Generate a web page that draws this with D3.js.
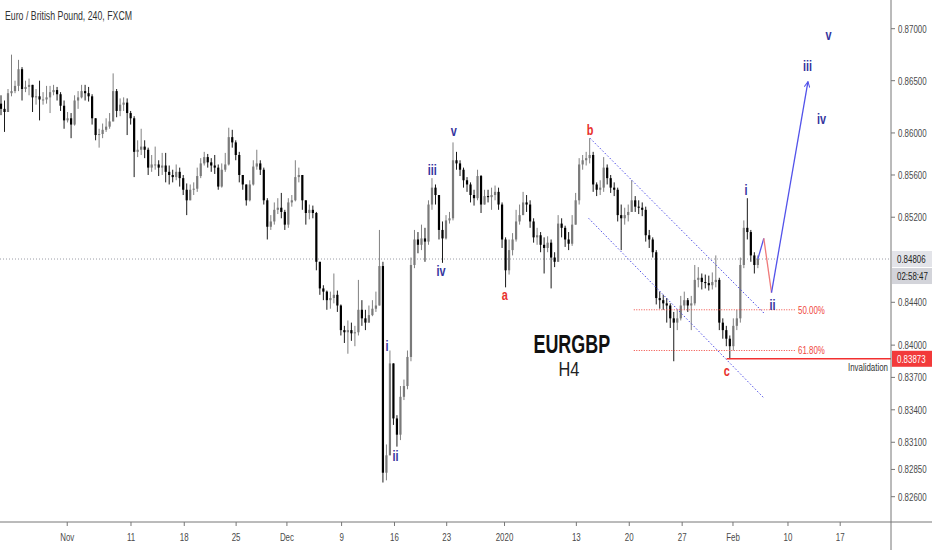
<!DOCTYPE html>
<html>
<head>
<meta charset="utf-8">
<script src="https://cdn.jsdelivr.net/npm/d3@7"></script>
<style>
  body { margin: 0; background: #fff; }
  svg { display: block; font-family: "Liberation Sans", Arial, sans-serif; }
</style>
</head>
<body>
<div id="chart"></div>
<script>
const width = 932;
const height = 550;
const plotRight = 891;
const axisY = 522;

// EUR/GBP 240 candles, open = previous close
const firstOpen = 0.8628;
const closes = [
  0.8623, 0.8620, 0.8638, 0.8640, 0.8645, 0.8661, 0.8642, 0.8644, 0.8646, 0.8634,
  0.8635, 0.8632, 0.8632, 0.8634, 0.8639, 0.8641, 0.8637, 0.8626, 0.8612, 0.8614,
  0.8608, 0.8631, 0.8634, 0.8640, 0.8638, 0.8635, 0.8614, 0.8598, 0.8599, 0.8603,
  0.8606, 0.8611, 0.8640, 0.8621, 0.8627, 0.8629, 0.8619, 0.8614, 0.8582, 0.8584,
  0.8587, 0.8584, 0.8567, 0.8570, 0.8570, 0.8567, 0.8569, 0.8563, 0.8560, 0.8558,
  0.8563, 0.8557, 0.8546, 0.8536, 0.8546, 0.8547, 0.8559, 0.8571, 0.8577, 0.8572,
  0.8569, 0.8567, 0.8549, 0.8565, 0.8570, 0.8596, 0.8591, 0.8579, 0.8560, 0.8551,
  0.8536, 0.8551, 0.8568, 0.8571, 0.8565, 0.8536, 0.8511, 0.8516, 0.8527, 0.8529,
  0.8525, 0.8513, 0.8534, 0.8536, 0.8558, 0.8560, 0.8536, 0.8524, 0.8527, 0.8524,
  0.8478, 0.8453, 0.8450, 0.8442, 0.8444, 0.8447, 0.8437, 0.8414, 0.8412, 0.8414,
  0.8411, 0.8412, 0.8433, 0.8425, 0.8421, 0.8428, 0.8434, 0.8437, 0.8474, 0.8282,
  0.8298, 0.8383, 0.8332, 0.8317, 0.8352, 0.8362, 0.8389, 0.8475, 0.8499, 0.8494,
  0.8500, 0.8497, 0.8532, 0.8548, 0.8541, 0.8508, 0.8500, 0.8517, 0.8519, 0.8574,
  0.8571, 0.8565, 0.8555, 0.8551, 0.8541, 0.8538, 0.8559, 0.8532, 0.8540, 0.8539,
  0.8541, 0.8544, 0.8532, 0.8499, 0.8470, 0.8489, 0.8499, 0.8516, 0.8522, 0.8534,
  0.8532, 0.8516, 0.8501, 0.8503, 0.8494, 0.8491, 0.8496, 0.8482, 0.8478, 0.8514,
  0.8510, 0.8499, 0.8495, 0.8513, 0.8536, 0.8570, 0.8574, 0.8576, 0.8579, 0.8551,
  0.8546, 0.8548, 0.8567, 0.8557, 0.8548, 0.8546, 0.8522, 0.8519, 0.8522, 0.8525,
  0.8536, 0.8530, 0.8529, 0.8527, 0.8503, 0.8499, 0.8487, 0.8444, 0.8442, 0.8439,
  0.8437, 0.8425, 0.8421, 0.8425, 0.8437, 0.8442, 0.8437, 0.8439, 0.8461, 0.8463,
  0.8459, 0.8458, 0.8456, 0.8459, 0.8461, 0.8421, 0.8414, 0.8406, 0.8399, 0.8418,
  0.8425, 0.8475, 0.8510, 0.8506, 0.8484, 0.8475, 0.84806
];
const highs = [
  0.8636, 0.8631, 0.8642, 0.8675, 0.8650, 0.8670, 0.8663, 0.8650, 0.8652, 0.8644,
  0.8642, 0.8650, 0.8639, 0.8645, 0.8645, 0.8646, 0.8644, 0.8639, 0.8631, 0.8620,
  0.8619, 0.8636, 0.8640, 0.8646, 0.8646, 0.8644, 0.8637, 0.8614, 0.8604, 0.8609,
  0.8614, 0.8619, 0.8657, 0.8642, 0.8633, 0.8634, 0.8633, 0.8621, 0.8616, 0.8593,
  0.8604, 0.8593, 0.8586, 0.8579, 0.8587, 0.8574, 0.8581, 0.8581, 0.8569, 0.8565,
  0.8570, 0.8567, 0.8560, 0.8552, 0.8551, 0.8553, 0.8567, 0.8576, 0.8582, 0.8580,
  0.8576, 0.8579, 0.8570, 0.8571, 0.8581, 0.8605, 0.8603, 0.8593, 0.8582, 0.8560,
  0.8551, 0.8555, 0.8574, 0.8584, 0.8574, 0.8567, 0.8538, 0.8522, 0.8534, 0.8538,
  0.8543, 0.8527, 0.8538, 0.8541, 0.8574, 0.8567, 0.8560, 0.8536, 0.8532, 0.8531,
  0.8525, 0.8478, 0.8456, 0.8451, 0.8450, 0.8467, 0.8451, 0.8438, 0.8418, 0.8423,
  0.8421, 0.8418, 0.8461, 0.8442, 0.8433, 0.8437, 0.8442, 0.8450, 0.8508, 0.8478,
  0.8308, 0.8395, 0.8380, 0.8335, 0.8362, 0.8368, 0.8395, 0.8482, 0.8508, 0.8506,
  0.8513, 0.8510, 0.8536, 0.8557, 0.8551, 0.8541, 0.8516, 0.8522, 0.8525, 0.8591,
  0.8582, 0.8574, 0.8567, 0.8558, 0.8553, 0.8546, 0.8565, 0.8560, 0.8546, 0.8546,
  0.8548, 0.8550, 0.8548, 0.8534, 0.8501, 0.8499, 0.8505, 0.8527, 0.8532, 0.8544,
  0.8541, 0.8536, 0.8519, 0.8510, 0.8506, 0.8501, 0.8502, 0.8499, 0.8487, 0.8522,
  0.8519, 0.8512, 0.8506, 0.8522, 0.8543, 0.8576, 0.8579, 0.8582, 0.8595, 0.8582,
  0.8553, 0.8555, 0.8577, 0.8570, 0.8560, 0.8553, 0.8548, 0.8532, 0.8529, 0.8532,
  0.8555, 0.8540, 0.8536, 0.8534, 0.8530, 0.8508, 0.8501, 0.8489, 0.8450, 0.8447,
  0.8444, 0.8439, 0.8431, 0.8433, 0.8446, 0.8450, 0.8444, 0.8446, 0.8475, 0.8473,
  0.8467, 0.8466, 0.8465, 0.8468, 0.8484, 0.8463, 0.8425, 0.8418, 0.8409, 0.8425,
  0.8433, 0.8482, 0.8517, 0.8538, 0.8508, 0.8487, 0.8484
];
const lows = [
  0.8617, 0.8601, 0.8620, 0.8635, 0.8638, 0.8640, 0.8631, 0.8639, 0.8636, 0.8620,
  0.8627, 0.8612, 0.8627, 0.8628, 0.8619, 0.8636, 0.8631, 0.8621, 0.8604, 0.8610,
  0.8595, 0.8607, 0.8623, 0.8633, 0.8631, 0.8630, 0.8608, 0.8593, 0.8586, 0.8595,
  0.8601, 0.8604, 0.8614, 0.8615, 0.8616, 0.8621, 0.8598, 0.8608, 0.8558, 0.8577,
  0.8579, 0.8576, 0.8560, 0.8563, 0.8565, 0.8559, 0.8560, 0.8553, 0.8551, 0.8553,
  0.8555, 0.8549, 0.8541, 0.8522, 0.8538, 0.8541, 0.8544, 0.8557, 0.8569, 0.8567,
  0.8563, 0.8561, 0.8546, 0.8548, 0.8563, 0.8569, 0.8586, 0.8574, 0.8553, 0.8546,
  0.8531, 0.8535, 0.8550, 0.8565, 0.8560, 0.8532, 0.8499, 0.8508, 0.8513, 0.8523,
  0.8519, 0.8508, 0.8510, 0.8530, 0.8535, 0.8553, 0.8527, 0.8513, 0.8518, 0.8519,
  0.8470, 0.8447, 0.8442, 0.8433, 0.8434, 0.8439, 0.8431, 0.8409, 0.8402, 0.8392,
  0.8404, 0.8399, 0.8409, 0.8418, 0.8414, 0.8421, 0.8427, 0.8431, 0.8437, 0.8273,
  0.8275, 0.8298, 0.8326, 0.8306, 0.8312, 0.8349, 0.8359, 0.8385, 0.8472, 0.8486,
  0.8489, 0.8478, 0.8494, 0.8527, 0.8532, 0.8499, 0.8477, 0.8499, 0.8514, 0.8517,
  0.8565, 0.8559, 0.8548, 0.8544, 0.8534, 0.8531, 0.8536, 0.8524, 0.8532, 0.8534,
  0.8527, 0.8536, 0.8527, 0.8491, 0.8454, 0.8466, 0.8484, 0.8497, 0.8513, 0.8522,
  0.8525, 0.8510, 0.8496, 0.8494, 0.8487, 0.8467, 0.8487, 0.8453, 0.8473, 0.8478,
  0.8501, 0.8492, 0.8489, 0.8493, 0.8513, 0.8532, 0.8565, 0.8569, 0.8571, 0.8544,
  0.8540, 0.8541, 0.8544, 0.8551, 0.8543, 0.8540, 0.8516, 0.8489, 0.8513, 0.8516,
  0.8527, 0.8525, 0.8523, 0.8521, 0.8497, 0.8491, 0.8482, 0.8438, 0.8434, 0.8433,
  0.8421, 0.8416, 0.8385, 0.8414, 0.8423, 0.8433, 0.8431, 0.8414, 0.8437, 0.8454,
  0.8452, 0.8453, 0.8451, 0.8452, 0.8454, 0.8414, 0.8406, 0.8399, 0.8387, 0.8395,
  0.8414, 0.8421, 0.8472, 0.8499, 0.8478, 0.8467, 0.8472
];

// time axis (bar positions of the labels)
const dateLabels = ["Nov", "11", "18", "25", "Dec", "9", "16", "23", "2020", "13", "20", "27", "Feb", "10", "17"];
const dateBars = [18.9, 37.1, 52.3, 67.1, 81.6, 97.2, 112.3, 127.2, 143.7, 164.2, 179.3, 194.4, 208.9, 224.6, 239.5];

// price axis
const priceTicks = [0.87, 0.865, 0.86, 0.856, 0.852, 0.844, 0.84, 0.837, 0.834, 0.831, 0.8285, 0.826];
const lastPrice = 0.84806;
const invalidation = 0.83873;
const countdown = "02:58:47";

// Elliott wave labels
const waveLabels = ["i", "ii", "iii", "iv", "v", "a", "b", "c", "i", "ii", "iii", "iv", "v"];
const waveBars = [110.2, 112.6, 123.1, 125.6, 129.2, 143.8, 168.1, 207.1, 212.6, 220.2, 230.2, 234.2, 236.2];
const wavePrices = [0.8399, 0.8297, 0.8565, 0.8469, 0.8602, 0.8447, 0.8603, 0.8376, 0.8546, 0.8437, 0.8664, 0.8613, 0.8694];
const waveRed = [false, false, false, false, false, true, true, true, false, false, false, false, false];

// projected path
const projBars = [216, 217.7, 219.9, 230.3];
const projPrices = [0.84806, 0.8500, 0.8449, 0.8649];
const projColors = ["#5252ea", "#f07a7a", "#5252ea"];

// falling channel
const channelBars = [[168.1, 217.7], [167.7, 217.7]];
const channelPrices = [[0.8595, 0.8430], [0.8519, 0.8351]];

// fibonacci levels
const fibLabels = ["50.00%", "61.80%"];
const fibPrices = [0.8433, 0.8395];
const fibBars = [180.6, 226.9];

const x = d3.scaleLinear().domain([0, 254]).range([1, plotRight]);
const y = d3.scaleLog().domain([0.826, 0.87]).range([496.7, 28.7]);

const svg = d3.select("#chart")
    .append("svg")
    .attr("width", width)
    .attr("height", height)
    .attr("viewBox", [0, 0, width, height]);

svg.append("rect").attr("width", width).attr("height", height).attr("fill", "#fff");

svg.append("clipPath").attr("id", "plot")
    .append("rect").attr("x", 0).attr("y", 0).attr("width", plotRight).attr("height", axisY);

const plot = svg.append("g").attr("clip-path", "url(#plot)");

// the chart image is horizontally narrow, so text is squeezed to match
function squeeze(sel, k) {
    sel.each(function() {
        const t = d3.select(this);
        const x0 = +t.attr("x") || 0;
        const y0 = +t.attr("y") || 0;
        t.attr("x", null).attr("y", null)
            .attr("transform", `translate(${x0},${y0}) scale(${k},1)`);
    });
}

// last price line
plot.append("line")
    .attr("x1", 0).attr("x2", plotRight)
    .attr("y1", y(lastPrice)).attr("y2", y(lastPrice))
    .attr("stroke", "#9a9ca6").attr("stroke-width", 1)
    .attr("stroke-dasharray", "1,2");

// candles
const candles = closes.map((c, i) => {
    const o = i ? closes[i - 1] : firstOpen;
    return { i, o, c, h: Math.max(highs[i], o, c), l: Math.min(lows[i], o, c) };
});

const candleG = plot.append("g");
candleG.selectAll("line")
    .data(candles)
    .join("line")
    .attr("x1", d => x(d.i)).attr("x2", d => x(d.i))
    .attr("y1", d => y(d.h)).attr("y2", d => y(d.l))
    .attr("stroke", d => d.c >= d.o ? "#808080" : "#1a1a1a")
    .attr("stroke-width", 1);

candleG.selectAll("rect")
    .data(candles)
    .join("rect")
    .attr("x", d => x(d.i) - 1.1)
    .attr("width", 2.2)
    .attr("y", d => y(Math.max(d.o, d.c)))
    .attr("height", d => Math.max(1, Math.abs(y(d.o) - y(d.c))))
    .attr("fill", d => d.c >= d.o ? "#7a7a7a" : "#000");

// channel
plot.append("g").selectAll("line")
    .data(channelBars.map((b, k) => ({ b, p: channelPrices[k] })))
    .join("line")
    .attr("x1", d => x(d.b[0])).attr("x2", d => x(d.b[1]))
    .attr("y1", d => y(d.p[0])).attr("y2", d => y(d.p[1]))
    .attr("stroke", "#4a4ae6").attr("stroke-width", 1)
    .attr("stroke-dasharray", "1.5,2");

// fib levels
const fibG = plot.append("g");
fibG.selectAll("line")
    .data(fibPrices)
    .join("line")
    .attr("x1", x(fibBars[0])).attr("x2", x(fibBars[1]))
    .attr("y1", d => y(d)).attr("y2", d => y(d))
    .attr("stroke", "#f0473e").attr("stroke-width", 1)
    .attr("stroke-dasharray", "1,1.5");
fibG.selectAll("text")
    .data(fibPrices)
    .join("text")
    .attr("x", x(fibBars[1]) + 2)
    .attr("y", d => y(d))
    .attr("dy", "0.35em")
    .attr("font-size", 11)
    .attr("fill", "#f0473e")
    .text((d, k) => fibLabels[k])
    .call(squeeze, 0.72);

// invalidation
plot.append("line")
    .attr("x1", x(207.1)).attr("x2", plotRight)
    .attr("y1", y(invalidation)).attr("y2", y(invalidation))
    .attr("stroke", "#f23030").attr("stroke-width", 1.5);
plot.append("text")
    .attr("x", plotRight - 3)
    .attr("y", y(invalidation) + 12)
    .attr("text-anchor", "end")
    .attr("font-size", 11)
    .attr("fill", "#333")
    .text("Invalidation")
    .call(squeeze, 0.72);

// projection
svg.append("defs").append("marker")
    .attr("id", "arrow")
    .attr("viewBox", "0 0 10 10")
    .attr("refX", 9).attr("refY", 5)
    .attr("markerWidth", 7).attr("markerHeight", 7)
    .attr("markerUnits", "userSpaceOnUse")
    .attr("orient", "auto")
    .append("path")
    .attr("d", "M1,1 L9,5 L1,9")
    .attr("fill", "none")
    .attr("stroke", "#5252ea")
    .attr("stroke-width", 1.5);

plot.append("g").selectAll("line")
    .data(projColors.map((c, k) => ({ c, k })))
    .join("line")
    .attr("x1", d => x(projBars[d.k])).attr("x2", d => x(projBars[d.k + 1]))
    .attr("y1", d => y(projPrices[d.k])).attr("y2", d => y(projPrices[d.k + 1]))
    .attr("stroke", d => d.c)
    .attr("stroke-width", 1.3)
    .attr("marker-end", d => d.k === projColors.length - 1 ? "url(#arrow)" : null);

// wave labels
plot.append("g").selectAll("text")
    .data(waveLabels)
    .join("text")
    .attr("x", (d, k) => x(waveBars[k]))
    .attr("y", (d, k) => y(wavePrices[k]))
    .attr("dy", "0.35em")
    .attr("text-anchor", "middle")
    .attr("font-size", 14)
    .attr("font-weight", "bold")
    .attr("fill", (d, k) => waveRed[k] ? "#e8302c" : "#34349e")
    .text(d => d)
    .call(squeeze, 0.78);

// symbol text
plot.append("text")
    .attr("x", x(162.9)).attr("y", y(0.8393))
    .attr("text-anchor", "middle")
    .attr("font-size", 26).attr("font-weight", "bold")
    .attr("fill", "#111")
    .text("EURGBP")
    .call(squeeze, 0.69);
plot.append("text")
    .attr("x", x(162.1)).attr("y", y(0.8371))
    .attr("text-anchor", "middle")
    .attr("font-size", 21)
    .attr("fill", "#222")
    .text("H4")
    .call(squeeze, 0.78);

// title
svg.append("text")
    .attr("x", 5).attr("y", 20)
    .attr("font-size", 12)
    .attr("fill", "#333")
    .text("Euro / British Pound, 240, FXCM")
    .call(squeeze, 0.73);

// axes frame
svg.append("line")
    .attr("x1", plotRight).attr("x2", plotRight)
    .attr("y1", 0).attr("y2", height)
    .attr("stroke", "#777").attr("stroke-width", 1);
svg.append("line")
    .attr("x1", 0).attr("x2", width)
    .attr("y1", axisY).attr("y2", axisY)
    .attr("stroke", "#777").attr("stroke-width", 1);

// date axis
const dateG = svg.append("g");
dateG.selectAll("line")
    .data(dateBars)
    .join("line")
    .attr("x1", d => x(d)).attr("x2", d => x(d))
    .attr("y1", axisY).attr("y2", axisY + 4)
    .attr("stroke", "#777");
dateG.selectAll("text")
    .data(dateBars)
    .join("text")
    .attr("x", d => x(d))
    .attr("y", 541)
    .attr("text-anchor", "middle")
    .attr("font-size", 11)
    .attr("fill", "#4a4a4a")
    .text((d, k) => dateLabels[k])
    .call(squeeze, 0.72);

// price axis
const priceG = svg.append("g");
priceG.selectAll("line")
    .data(priceTicks)
    .join("line")
    .attr("x1", plotRight).attr("x2", plotRight + 4)
    .attr("y1", d => y(d)).attr("y2", d => y(d))
    .attr("stroke", "#777");
priceG.selectAll("text")
    .data(priceTicks)
    .join("text")
    .attr("x", plotRight + 7)
    .attr("y", d => y(d))
    .attr("dy", "0.35em")
    .attr("font-size", 11)
    .attr("fill", "#4a4a4a")
    .text(d => d3.format(".5f")(d))
    .call(squeeze, 0.72);

// price tags
const tags = [
    { v: lastPrice, txt: d3.format(".5f")(lastPrice), fill: "#e3e4e9", color: "#222", dy: 0 },
    { v: lastPrice, txt: countdown, fill: "#d3d4da", color: "#222", dy: 17 },
    { v: invalidation, txt: d3.format(".5f")(invalidation), fill: "#f23a3a", color: "#fff", dy: 0 }
];
const tagG = svg.append("g").selectAll("g")
    .data(tags)
    .join("g")
    .attr("transform", d => `translate(${plotRight + 1},${y(d.v) + d.dy})`);
tagG.append("rect")
    .attr("x", 0).attr("y", -8)
    .attr("width", width - plotRight - 1).attr("height", 16)
    .attr("fill", d => d.fill);
tagG.append("text")
    .attr("x", 5).attr("dy", "0.35em")
    .attr("font-size", 11)
    .attr("fill", d => d.color)
    .text(d => d.txt)
    .call(squeeze, 0.72);
</script>
</body>
</html>
